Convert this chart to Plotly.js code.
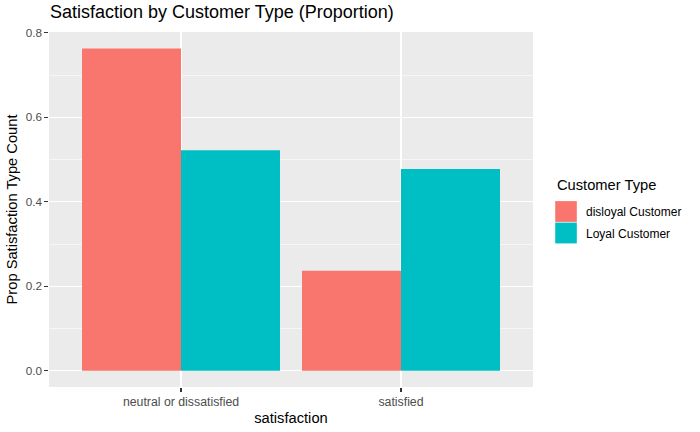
<!DOCTYPE html>
<html>
<head>
<meta charset="utf-8">
<script src="https://cdn.plot.ly/plotly-3.0.1.min.js"></script>
<style>html,body{margin:0;padding:0;background:#fff;}#chart{width:700px;height:432px;}</style>
</head>
<body>
<div id="chart"></div>
<script>
const categories = ["neutral or dissatisfied", "satisfied"];
const seriesNames = ["disloyal Customer", "Loyal Customer"];
const disloyalValues = [0.763, 0.237];
const loyalValues = [0.522, 0.478];
const yTickVals = [0, 0.2, 0.4, 0.6, 0.8];
const yTickText = ["0.0", "0.2", "0.4", "0.6", "0.8"];
const colors = ["#F8766D", "#00BFC4"];

const font = "Liberation Sans, Arial, sans-serif";
const traces = [
  {type: "bar", name: seriesNames[0], x: categories, y: disloyalValues, legendgroup: "g1",
   marker: {color: colors[0], line: {width: 0}}, hoverinfo: "x+y+name"},
  {type: "bar", name: seriesNames[1], x: categories, y: loyalValues, legendgroup: "g2",
   marker: {color: colors[1], line: {width: 0}}, hoverinfo: "x+y+name"}
];

const layout = {
  width: 700, height: 432,
  margin: {l: 49, r: 167, t: 32, b: 45, pad: 0},
  paper_bgcolor: "#FFFFFF",
  plot_bgcolor: "#EBEBEB",
  font: {family: font, color: "#000000"},
  barmode: "group",
  bargap: 0.1,
  bargroupgap: 0,
  title: {text: "Satisfaction by Customer Type (Proportion)", x: 0, xref: "paper", xanchor: "left",
          y: 1, yref: "container", yanchor: "top", pad: {t: 5, l: 1},
          font: {family: font, size: 18, color: "#000000"}},
  xaxis: {
    type: "category",
    range: [-0.6, 1.6],
    showgrid: true, gridcolor: "#FFFFFF", gridwidth: 1.07,
    zeroline: false, showline: false,
    ticks: "outside", ticklen: 3.7, tickwidth: 1.07, tickcolor: "#333333",
    tickfont: {family: font, size: 12.3, color: "#4D4D4D"},
    title: {text: "satisfaction", standoff: 4, font: {family: font, size: 14.7, color: "#000000"}},
    fixedrange: true
  },
  yaxis: {
    range: [-0.0382, 0.8021],
    tickvals: yTickVals, ticktext: yTickText,
    showgrid: true, gridcolor: "#FFFFFF", gridwidth: 1.07,
    minor: {dtick: 0.1, tick0: 0.1, showgrid: true, gridcolor: "#FFFFFF", gridwidth: 0.53, ticks: ""},
    zeroline: false, showline: false,
    ticks: "outside", ticklen: 3.7, tickwidth: 1.07, tickcolor: "#333333",
    tickfont: {family: font, size: 11.7, color: "#4D4D4D"},
    title: {text: "Prop Satisfaction Type Count", standoff: 4, font: {family: font, size: 14.7, color: "#000000"}},
    fixedrange: true
  },
  legend: {
    x: 1.0269, xanchor: "left", y: 0.5352, yanchor: "top",
    font: {family: font, size: 12, color: "#000000"},
    bgcolor: "rgba(0,0,0,0)",
    traceorder: "grouped",
    tracegroupgap: 2.5,
    itemwidth: 30
  },
  annotations: [{
    text: "Customer Type", xref: "paper", yref: "paper",
    x: 1.0455, y: 0.569, xanchor: "left", yanchor: "middle", showarrow: false,
    font: {family: font, size: 14.7, color: "#000000"}
  }],
  showlegend: true
};

function enlargeLegendKeys(gd) {
  gd.querySelectorAll("g.legend g.legendpoints path").forEach(function (p) {
    p.setAttribute("d", "M10.8,10.4H-10.8V-10.4H10.8Z");
  });
}

const gdEl = document.getElementById("chart");
Plotly.newPlot(gdEl, traces, layout, {displayModeBar: false, staticPlot: true}).then(function (gd) {
  enlargeLegendKeys(gd);
  gd.on && gd.on("plotly_afterplot", function () { enlargeLegendKeys(gd); });
  setTimeout(function () { enlargeLegendKeys(gd); }, 50);
});
</script>
</body>
</html>
